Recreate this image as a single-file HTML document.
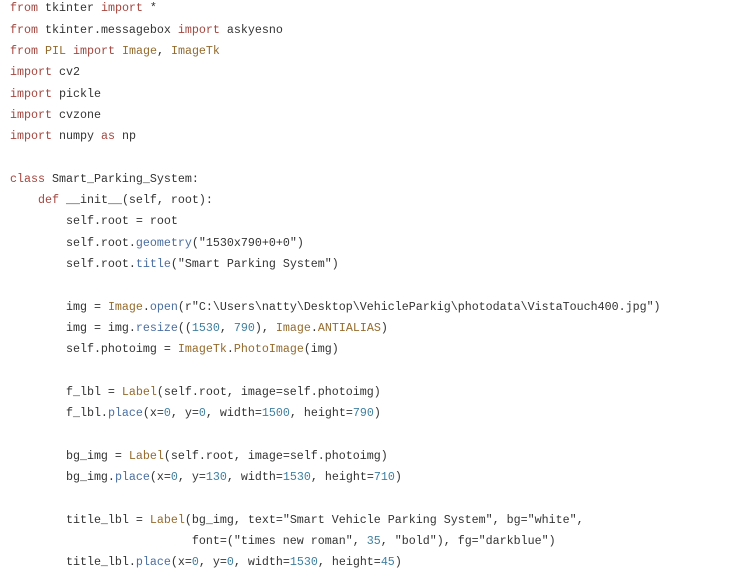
<!DOCTYPE html>
<html><head><style>
html,body{margin:0;padding:0;background:#fff;width:745px;height:573px;overflow:hidden}
pre{position:absolute;left:10px;top:-1.7px;margin:0;font-family:"Liberation Mono",monospace;font-size:11.67px;line-height:21.31px;color:#333}
.k{color:#a4463f}.c{color:#946a2d}.m{color:#4a6ea0}.n{color:#3f7f9f}
</style></head><body><pre><span class="k">from</span> tkinter <span class="k">import</span> *
<span class="k">from</span> tkinter.messagebox <span class="k">import</span> askyesno
<span class="k">from</span> <span class="c">PIL</span> <span class="k">import</span> <span class="c">Image</span>, <span class="c">ImageTk</span>
<span class="k">import</span> cv2
<span class="k">import</span> pickle
<span class="k">import</span> cvzone
<span class="k">import</span> numpy <span class="k">as</span> np

<span class="k">class</span> Smart_Parking_System:
    <span class="k">def</span> __init__(self, root):
        self.root = root
        self.root.<span class="m">geometry</span>("1530x790+0+0")
        self.root.<span class="m">title</span>("Smart Parking System")

        img = <span class="c">Image</span>.<span class="m">open</span>(r"C:\Users\natty\Desktop\VehicleParkig\photodata\VistaTouch400.jpg")
        img = img.<span class="m">resize</span>((<span class="n">1530</span>, <span class="n">790</span>), <span class="c">Image</span>.<span class="c">ANTIALIAS</span>)
        self.photoimg = <span class="c">ImageTk</span>.<span class="c">PhotoImage</span>(img)

        f_lbl = <span class="c">Label</span>(self.root, image=self.photoimg)
        f_lbl.<span class="m">place</span>(x=<span class="n">0</span>, y=<span class="n">0</span>, width=<span class="n">1500</span>, height=<span class="n">790</span>)

        bg_img = <span class="c">Label</span>(self.root, image=self.photoimg)
        bg_img.<span class="m">place</span>(x=<span class="n">0</span>, y=<span class="n">130</span>, width=<span class="n">1530</span>, height=<span class="n">710</span>)

        title_lbl = <span class="c">Label</span>(bg_img, text="Smart Vehicle Parking System", bg="white",
                          font=("times new roman", <span class="n">35</span>, "bold"), fg="darkblue")
        title_lbl.<span class="m">place</span>(x=<span class="n">0</span>, y=<span class="n">0</span>, width=<span class="n">1530</span>, height=<span class="n">45</span>)
</pre></body></html>
